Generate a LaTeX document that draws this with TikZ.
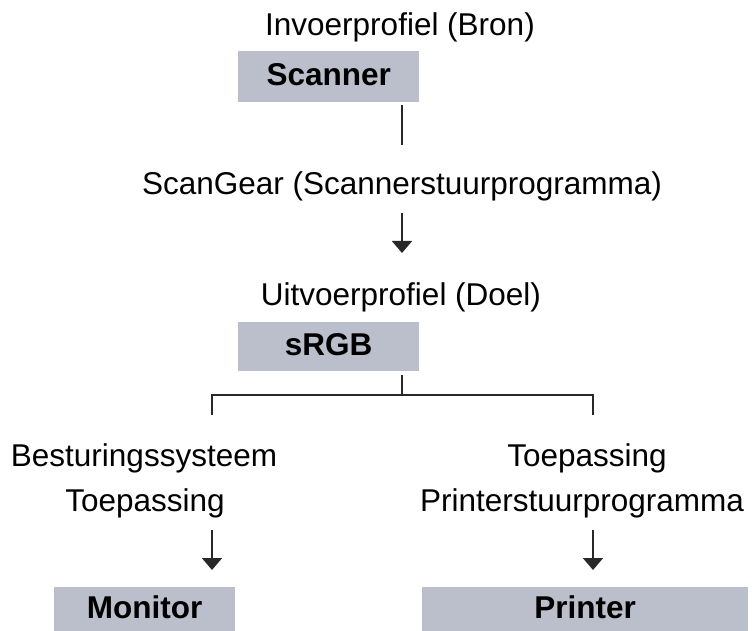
\documentclass[tikz,border=0pt]{standalone}
\usepackage{fontspec}
\setmainfont{Liberation Sans}
\usetikzlibrary{arrows.meta}
\definecolor{boxgray}{RGB}{187,191,203}
\definecolor{linegray}{RGB}{40,40,40}
\tikzset{
  lbl/.style={anchor=base, inner sep=0pt, font=\fontsize{31.5}{37}\selectfont},
  box/.style={fill=boxgray, draw=none, inner sep=0pt, anchor=north west, text height=23pt, text depth=5pt, font=\fontsize{31.5}{37}\selectfont\bfseries},
  conn/.style={draw=linegray, line width=1.8pt},
  arr/.style={conn, -{Triangle[width=20pt,length=12pt]}}
}
\begin{document}
\begin{tikzpicture}[x=1pt,y=-1pt]
\useasboundingbox (0,0) rectangle (755,631);
% text labels
\node[lbl] (invoer) at (400,36) {Invoerprofiel (Bron)};
\node[box, minimum width=181pt, minimum height=51pt] (scanner) at (238,51) {Scanner};
\node[lbl] (scangear) at (402,195) {ScanGear (Scannerstuurprogramma)};
\node[lbl] (uitvoer) at (401,305) {Uitvoerprofiel (Doel)};
\node[box, minimum width=181pt, minimum height=49pt] (srgb) at (238,322) {sRGB};
\node[lbl] (bestur) at (144,466) {Besturingssysteem};
\node[lbl] (toepL) at (145,511) {Toepassing};
\node[lbl] (toepR) at (587,466) {Toepassing};
\node[lbl] (printdrv) at (582,511) {Printerstuurprogramma};
\node[box, minimum width=181pt, minimum height=44pt] (monitor) at (54,587) {Monitor};
\node[box, minimum width=326pt, minimum height=44pt] (printer) at (422,587) {Printer};
% connector points
\coordinate (s1) at (402,105);
\coordinate (s2) at (402,145);
\coordinate (g1) at (402,213);
\coordinate (g2) at (402,253);
\coordinate (r1) at (402,375);
\coordinate (r2) at (402,395);
\coordinate (bl) at (212,395);
\coordinate (br) at (593,395);
\coordinate (bl2) at (212,415);
\coordinate (br2) at (593,415);
\coordinate (ml1) at (212,530);
\coordinate (ml2) at (212,570);
\coordinate (pr1) at (593,530);
\coordinate (pr2) at (593,570);
% connectors
\draw[conn] (s1) -- (s2);
\draw[arr] (g1) -- (g2);
\draw[conn] (r1) -- (r2);
\draw[conn] (bl2) -- (bl) -- (br) -- (br2);
\draw[arr] (ml1) -- (ml2);
\draw[arr] (pr1) -- (pr2);
\end{tikzpicture}
\end{document}
